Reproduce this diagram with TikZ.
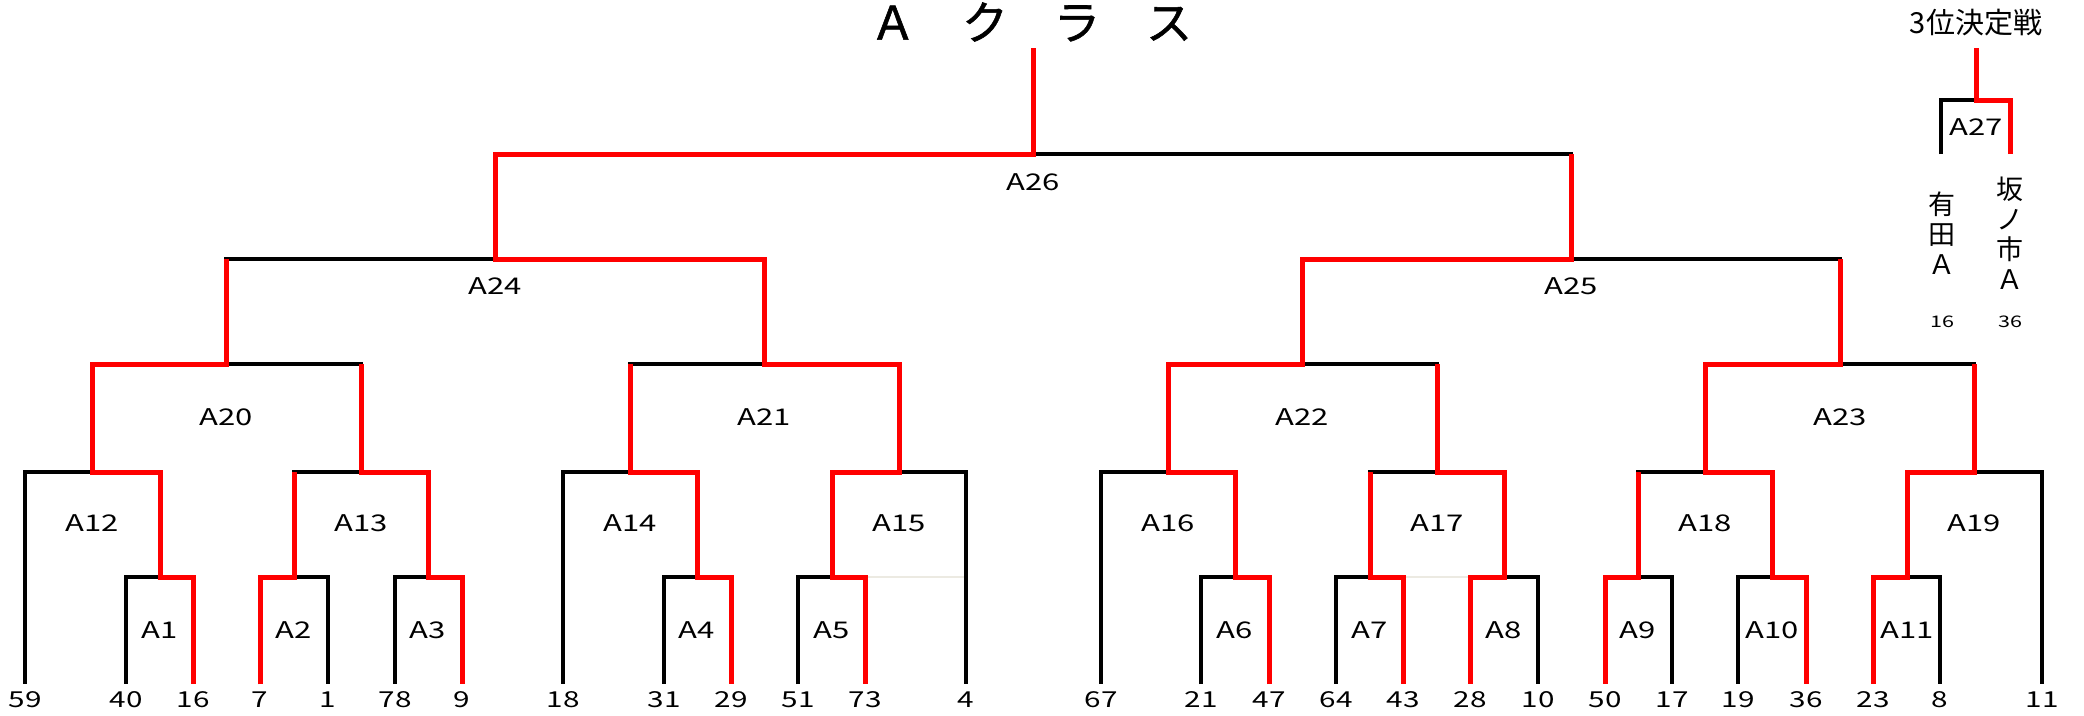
\documentclass[tikz,border=0pt]{standalone}
\usepackage{fontspec}
\setmainfont{Noto Sans CJK JP}
\newfontfamily\jpfont{Noto Sans CJK JP}
\newfontfamily\headfont[FakeBold=1.2]{Noto Sans CJK JP}
\newfontfamily\widefont[FakeStretch=1.35]{Noto Sans CJK JP}
\definecolor{winred}{RGB}{255,0,0}
\definecolor{ghost}{RGB}{236,234,226}
\tikzset{
    lose/.style  = {line width=3.6pt, draw=black},
    win/.style   = {line width=5pt, draw=winred},
    faint/.style = {line width=1.5pt, draw=ghost},
    team/.style  = {font=\widefont\fontsize{22}{22}\selectfont, inner sep=0pt, outer ysep=8pt},
    match/.style = {font=\widefont\fontsize{23}{23}\selectfont, inner sep=0pt},
    score/.style = {font=\widefont\fontsize{16}{16}\selectfont, inner sep=0pt},
    vname/.style = {font=\jpfont\fontsize{27}{30}\selectfont, align=center, inner sep=0pt},
    heading/.style = {font=\headfont\fontsize{46}{46}\selectfont, inner sep=0pt},
    subheading/.style = {font=\jpfont\fontsize{29}{29}\selectfont, inner sep=0pt}
}

\begin{document}
\begin{tikzpicture}[x=1pt, y=-1pt]
    \useasboundingbox (0,0) rectangle (2084,715);

    % --- Titles ---
    \node[heading] (title) at (1031,22) {Ａ　ク　ラ　ス};
    \node[subheading] (third) at (1976,23) {3位決定戦};

    % --- Teams ---
    \node[team] (t59) at (25,700) {59};
    \node[team] (t40) at (126,700) {40};
    \node[team] (t16) at (193,700) {16};
    \node[team] (t7) at (260,700) {7};
    \node[team] (t1) at (328,700) {1};
    \node[team] (t78) at (395,700) {78};
    \node[team] (t9) at (462,700) {9};
    \node[team] (t18) at (563,700) {18};
    \node[team] (t31) at (664,700) {31};
    \node[team] (t29) at (731,700) {29};
    \node[team] (t51) at (798,700) {51};
    \node[team] (t73) at (865,700) {73};
    \node[team] (t4) at (966,700) {4};
    \node[team] (t67) at (1101,700) {67};
    \node[team] (t21) at (1201,700) {21};
    \node[team] (t47) at (1269,700) {47};
    \node[team] (t64) at (1336,700) {64};
    \node[team] (t43) at (1403,700) {43};
    \node[team] (t28) at (1470,700) {28};
    \node[team] (t10) at (1538,700) {10};
    \node[team] (t50) at (1605,700) {50};
    \node[team] (t17) at (1672,700) {17};
    \node[team] (t19) at (1738,700) {19};
    \node[team] (t36) at (1806,700) {36};
    \node[team] (t23) at (1873,700) {23};
    \node[team] (t8) at (1940,700) {8};
    \node[team] (t11) at (2042,700) {11};

    % --- Match points ---
    \coordinate (A1) at (160,577);
    \coordinate (A2) at (294,577);
    \coordinate (A3) at (428,577);
    \coordinate (A4) at (697,577);
    \coordinate (A5) at (832,577);
    \coordinate (A6) at (1235,577);
    \coordinate (A7) at (1370,577);
    \coordinate (A8) at (1504,577);
    \coordinate (A9) at (1638,577);
    \coordinate (A10) at (1772,577);
    \coordinate (A11) at (1907,577);
    \coordinate (A12) at (92,472);
    \coordinate (A13) at (361,472);
    \coordinate (A14) at (630,472);
    \coordinate (A15) at (899,472);
    \coordinate (A16) at (1168,472);
    \coordinate (A17) at (1437,472);
    \coordinate (A18) at (1705,472);
    \coordinate (A19) at (1974,472);
    \coordinate (A20) at (226,364);
    \coordinate (A21) at (764,364);
    \coordinate (A22) at (1302,364);
    \coordinate (A23) at (1840,364);
    \coordinate (A24) at (495,259);
    \coordinate (A25) at (1571,259);
    \coordinate (A26) at (1033,154);
    \coordinate (top26) at (1033,48);

    % --- Match labels ---
    \node[match] (A1_txt) at (160,630) {A1};
    \node[match] (A2_txt) at (294,630) {A2};
    \node[match] (A3_txt) at (428,630) {A3};
    \node[match] (A4_txt) at (697,630) {A4};
    \node[match] (A5_txt) at (832,630) {A5};
    \node[match] (A6_txt) at (1235,630) {A6};
    \node[match] (A7_txt) at (1370,630) {A7};
    \node[match] (A8_txt) at (1504,630) {A8};
    \node[match] (A9_txt) at (1638,630) {A9};
    \node[match] (A10_txt) at (1772,630) {A10};
    \node[match] (A11_txt) at (1907,630) {A11};
    \node[match] (A12_txt) at (92,523) {A12};
    \node[match] (A13_txt) at (361,523) {A13};
    \node[match] (A14_txt) at (630,523) {A14};
    \node[match] (A15_txt) at (899,523) {A15};
    \node[match] (A16_txt) at (1168,523) {A16};
    \node[match] (A17_txt) at (1437,523) {A17};
    \node[match] (A18_txt) at (1705,523) {A18};
    \node[match] (A19_txt) at (1974,523) {A19};
    \node[match] (A20_txt) at (226,417) {A20};
    \node[match] (A21_txt) at (764,417) {A21};
    \node[match] (A22_txt) at (1302,417) {A22};
    \node[match] (A23_txt) at (1840,417) {A23};
    \node[match] (A24_txt) at (495,286) {A24};
    \node[match] (A25_txt) at (1571,286) {A25};
    \node[match] (A26_txt) at (1033,182) {A26};

    % --- faint guide lines ---
    \draw[faint] (t73.north |- A5) -- (t4.north |- A5);
    \draw[faint] (t43.north |- A7) -- (t28.north |- A8);

    % --- Bracket (black) ---
    \draw[lose] (t40.north) |- (A1) -| (t16.north);
    \draw[lose] (t7.north) |- (A2) -| (t1.north);
    \draw[lose] (t78.north) |- (A3) -| (t9.north);
    \draw[lose] (t31.north) |- (A4) -| (t29.north);
    \draw[lose] (t51.north) |- (A5) -| (t73.north);
    \draw[lose] (t21.north) |- (A6) -| (t47.north);
    \draw[lose] (t64.north) |- (A7) -| (t43.north);
    \draw[lose] (t28.north) |- (A8) -| (t10.north);
    \draw[lose] (t50.north) |- (A9) -| (t17.north);
    \draw[lose] (t19.north) |- (A10) -| (t36.north);
    \draw[lose] (t23.north) |- (A11) -| (t8.north);

    \draw[lose] (t59.north) |- (A12) -| (A1);
    \draw[lose] (A2) |- (A13) -| (A3);
    \draw[lose] (t18.north) |- (A14) -| (A4);
    \draw[lose] (A5) |- (A15) -| (t4.north);
    \draw[lose] (t67.north) |- (A16) -| (A6);
    \draw[lose] (A7) |- (A17) -| (A8);
    \draw[lose] (A9) |- (A18) -| (A10);
    \draw[lose] (A11) |- (A19) -| (t11.north);

    \draw[lose] (A12) |- (A20) -| (A13);
    \draw[lose] (A14) |- (A21) -| (A15);
    \draw[lose] (A16) |- (A22) -| (A17);
    \draw[lose] (A18) |- (A23) -| (A19);

    \draw[lose] (A20) |- (A24) -| (A21);
    \draw[lose] (A22) |- (A25) -| (A23);
    \draw[lose] (A24) |- (A26) -| (A25);

    % --- Winners (red) ---
    \draw[win] (t16.north) |- (A1) |- (A12) |- (A20) -- (A20 |- A24);
    \draw[win] (t7.north) |- (A2) -- (A2 |- A13);
    \draw[win] (t9.north) |- (A3) |- (A13) -- (A13 |- A20);
    \draw[win] (t29.north) |- (A4) |- (A14) -- (A14 |- A21);
    \draw[win] (t73.north) |- (A5) |- (A15) |- (A21) |- (A24) |- (A26) -- (top26);
    \draw[win] (t47.north) |- (A6) |- (A16) |- (A22) |- (A25) -- (A25 |- A26);
    \draw[win] (t43.north) |- (A7) -- (A7 |- A17);
    \draw[win] (t28.north) |- (A8) |- (A17) -- (A17 |- A22);
    \draw[win] (t50.north) |- (A9) -- (A9 |- A18);
    \draw[win] (t36.north) |- (A10) |- (A18) |- (A23) -- (A23 |- A25);
    \draw[win] (t23.north) |- (A11) |- (A19) -- (A19 |- A23);

    % --- 3rd place ---
    \coordinate (A27) at (1976,100);
    \coordinate (top27) at (1976,48);
    \coordinate (p_arita) at (1941,154);
    \coordinate (p_sakanoichi) at (2010,154);
    \node[match] (A27_txt) at (1976,127) {A27};
    \node[vname] (arita) at (1942,233) {有\\田\\Ａ};
    \node[vname] (sakanoichi) at (2010,233) {坂\\ノ\\市\\Ａ};
    \node[score] (arita_pt) at (1942,322) {16};
    \node[score] (sakanoichi_pt) at (2010,322) {36};
    \draw[lose] (p_arita) |- (A27) -| (p_sakanoichi);
    \draw[win] (p_sakanoichi) |- (A27) -- (top27);
\end{tikzpicture}
\end{document}
